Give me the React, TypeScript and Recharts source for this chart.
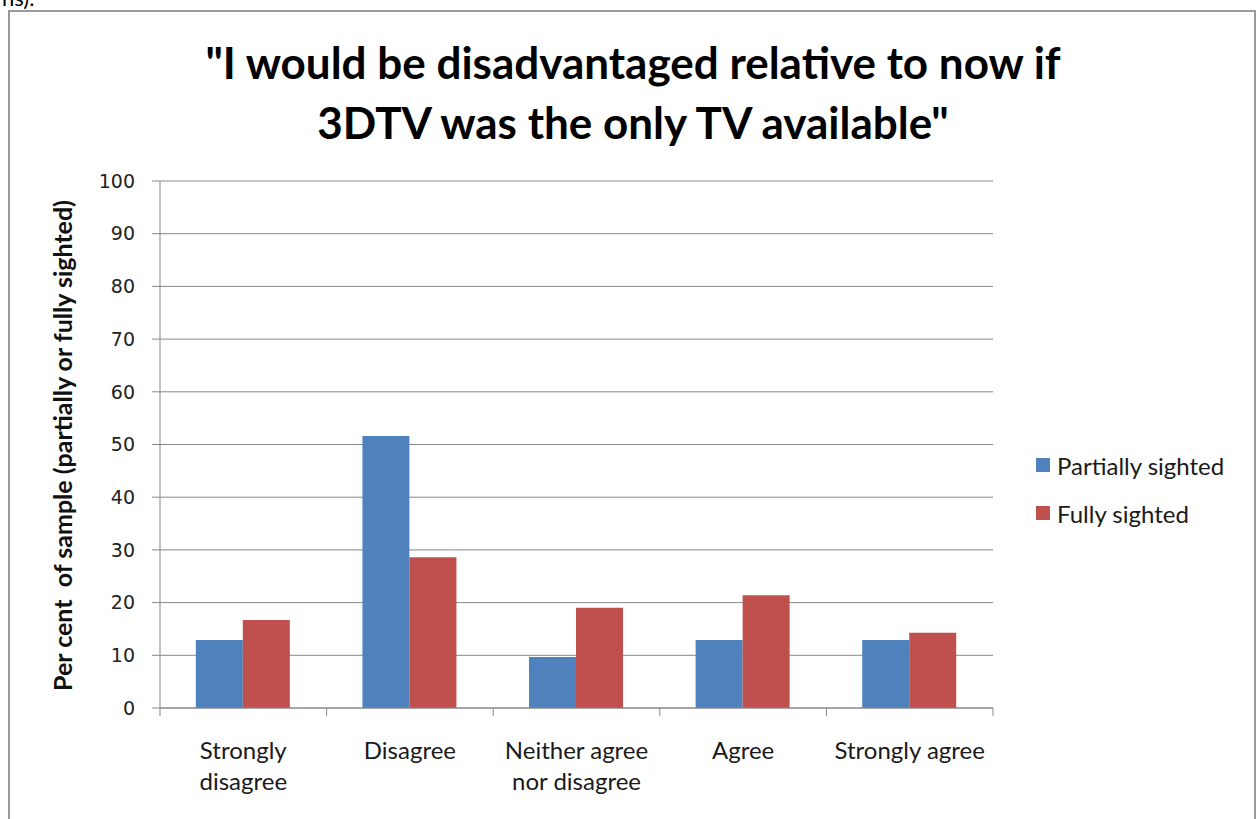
import { BarChart, Bar, XAxis, YAxis, CartesianGrid, Legend } from "recharts"

const categories = ["Strongly\ndisagree", "Disagree", "Neither agree\nnor disagree", "Agree", "Strongly agree"]
const partiallySighted = [12.9, 51.6, 9.7, 12.9, 12.9]
const fullySighted = [16.7, 28.6, 19.0, 21.4, 14.3]
const yTicks = [0, 10, 20, 30, 40, 50, 60, 70, 80, 90, 100]

const seriesNames = ["Partially sighted", "Fully sighted"]
const seriesColors = ["#4F81BD", "#C0504D"]

const data = categories.map((cat, i) => ({
  cat,
  partial: partiallySighted[i],
  full: fullySighted[i],
}))

const FONT = "Lato, 'Open Sans', sans-serif"
const GRID = "#888888"

function CategoryTick(props: any) {
  const { x, y, payload, width, visibleTicksCount, index } = props
  const band = width / visibleTicksCount
  const lines = String(payload.value).split("\n")
  return (
    <g>
      <line x1={x - band / 2} x2={x - band / 2} y1={y} y2={y + 8} stroke={GRID} />
      {index === visibleTicksCount - 1 && (
        <line x1={x + band / 2} x2={x + band / 2} y1={y} y2={y + 8} stroke={GRID} />
      )}
      <text x={x} y={y + 51} textAnchor="middle" fill="#1a1a1a" fontSize={24} fontFamily={FONT}>
        {lines.map((l, i) => (
          <tspan key={i} x={x} dy={i === 0 ? 0 : 31}>
            {l}
          </tspan>
        ))}
      </text>
    </g>
  )
}

function YLabel(props: any) {
  const { viewBox } = props
  const cx = viewBox.x - 38
  const cy = viewBox.y + viewBox.height / 2 + 1
  return (
    <text
      x={cx}
      y={cy}
      transform={`rotate(-90 ${cx} ${cy})`}
      textAnchor="middle"
      dominantBaseline="central"
      fontSize={25}
      fontWeight={700}
      fontFamily={FONT}
      fill="#111"
      style={{ whiteSpace: "pre" }}
    >
      {"Per cent  of sample (partially or fully sighted)"}
    </text>
  )
}

function LegendBox() {
  return (
    <div style={{ fontFamily: FONT, fontSize: 24, color: "#1a1a1a" }}>
      {seriesNames.map((name, i) => (
        <div key={name} style={{ display: "flex", alignItems: "center", height: 48 }}>
          <span
            style={{
              display: "inline-block",
              width: 14,
              height: 14,
              background: seriesColors[i],
              marginRight: 7,
            }}
          />
          <span>{name}</span>
        </div>
      ))}
    </div>
  )
}

export default function App() {
  return (
    <div
      style={{
        position: "absolute",
        left: 0,
        top: 0,
        width: 1258,
        height: 819,
        overflow: "hidden",
        background: "#fff",
      }}
    >
      <div
        style={{
          position: "absolute",
          left: 2,
          top: -16,
          fontFamily: FONT,
          fontSize: 22,
          color: "#000",
        }}
      >
        ns).
      </div>
      <div
        style={{
          position: "absolute",
          left: 8,
          top: 10,
          width: 1248,
          height: 840,
          boxSizing: "border-box",
          border: "2px solid #9a9a9a",
        }}
      />
      <div
        style={{
          position: "absolute",
          left: 83,
          top: 32,
          width: 1100,
          textAlign: "center",
          fontFamily: FONT,
          fontWeight: 700,
          fontSize: 44,
          lineHeight: "60px",
          color: "#000",
        }}
      >
        "I would be disadvantaged relative to now if
        <br />
        3DTV was the only TV available"
      </div>
      <div style={{ position: "absolute", left: 0, top: 0 }}>
        <BarChart
          width={1258}
          height={819}
          data={data}
          margin={{ top: 181, right: 265, bottom: 31, left: 100 }}
          barGap={0}
          barCategoryGap="21.5%"
        >
          <CartesianGrid vertical={false} stroke={GRID} />
          <XAxis
            dataKey="cat"
            interval={0}
            height={80}
            tickLine={false}
            tickSize={0}
            tickMargin={0}
            axisLine={{ stroke: GRID }}
            tick={<CategoryTick />}
          />
          <YAxis
            width={60}
            domain={[0, 100]}
            ticks={yTicks}
            interval={0}
            tickSize={8}
            tickMargin={17}
            axisLine={{ stroke: GRID }}
            tickLine={{ stroke: GRID }}
            tick={{ fill: "#222", fontSize: 19, fontFamily: "'DejaVu Sans', sans-serif" }}
            label={<YLabel />}
          />
          <Legend
            layout="horizontal"
            verticalAlign="middle"
            content={<LegendBox />}
            wrapperStyle={{ position: "absolute", left: 1036, top: 441, width: 220, height: 96 }}
          />
          <Bar dataKey="partial" name={seriesNames[0]} fill={seriesColors[0]} isAnimationActive={false} />
          <Bar dataKey="full" name={seriesNames[1]} fill={seriesColors[1]} isAnimationActive={false} />
        </BarChart>
      </div>
    </div>
  )
}
